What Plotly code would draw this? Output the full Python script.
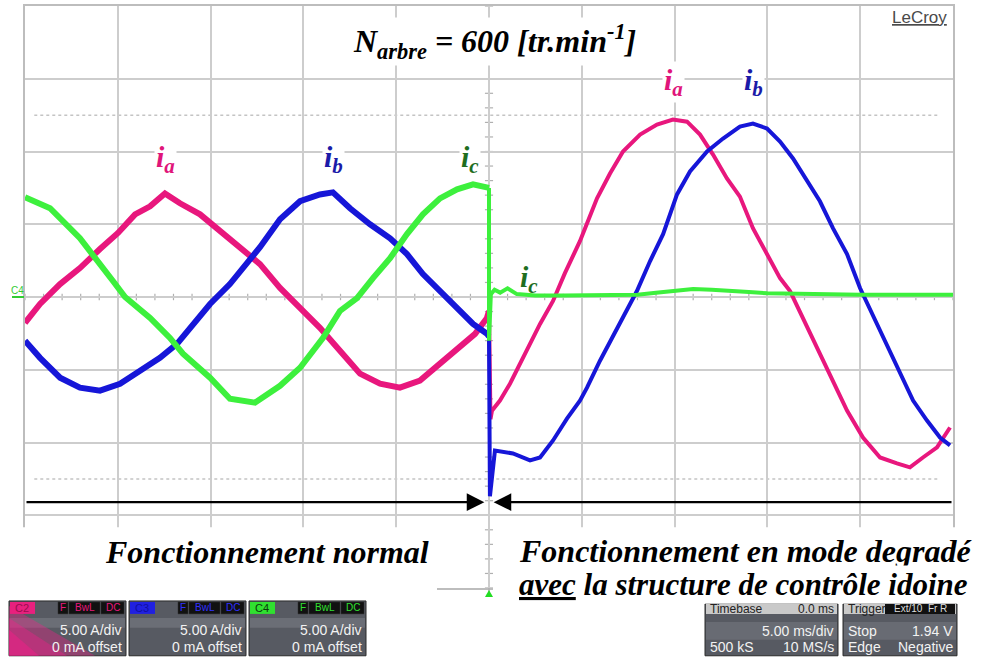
import plotly.graph_objects as go

# ---------------- data (time in ms, current in A; 5 ms/div, 5 A/div) ----------------
ia_normal_t = [-25.0, -24.19, -23.11, -22.04, -20.96, -19.99, -19.07, -18.26, -17.46, -16.65, -15.57,
               -14.5, -13.42, -12.34, -11.26, -10.18, -9.11, -8.03, -6.95, -5.87, -4.80, -3.72,
               -2.64, -1.56, -0.75, -0.11, 0.0]
ia_normal = [-1.78, -0.48, 0.89, 1.99, 3.30, 4.40, 5.68, 6.23, 7.12, 6.44, 5.68,
             4.52, 3.36, 2.26, 0.62, -0.75, -2.12, -3.70, -5.27, -5.96, -6.23, -5.75,
             -4.59, -3.49, -2.53, -1.44, -0.96]

ib_normal_t = [-25.0, -24.19, -23.11, -22.04, -20.96, -19.88, -18.80, -17.73, -16.81, -16.11, -15.03,
               -13.96, -13.04, -12.34, -11.26, -10.18, -9.11, -8.41, -7.49, -6.41, -5.33, -4.42,
               -3.56, -2.64, -1.72, -0.86, -0.11, 0.0]
ib_normal = [-3.01, -4.18, -5.55, -6.23, -6.44, -5.96, -5.07, -4.18, -3.22, -2.12, -0.48,
             0.89, 2.33, 3.42, 5.34, 6.58, 7.05, 7.19, 6.10, 5.00, 4.04, 2.95,
             1.58, 0.41, -0.75, -1.85, -2.53, -2.70]

ic_normal_t = [-25.0, -23.65, -22.04, -20.96, -20.26, -19.61, -18.26, -17.19, -16.49, -15.03, -13.96,
               -12.61, -11.26, -10.18, -8.94, -8.03, -7.11, -6.25, -5.33, -4.42, -3.56, -2.64,
               -1.72, -0.86, -0.11, 0.0]
ic_normal = [6.85, 6.10, 4.04, 2.33, 1.10, 0.00, -1.44, -2.81, -3.90, -5.55, -6.99,
             -7.26, -6.10, -4.86, -2.81, -0.96, -0.07, 1.30, 2.67, 4.32, 5.68, 6.78,
             7.40, 7.74, 7.47, 7.50]

ia_degr_t = [0.0, 0.08, 0.16, 0.59, 1.13, 1.67, 2.21, 2.75, 3.45, 4.09, 4.90, 5.82, 6.52, 7.22,
             8.14, 9.05, 9.91, 10.67, 11.37, 12.07, 12.82, 13.52, 14.22, 14.98, 15.68, 16.22,
             17.30, 18.37, 19.29, 20.15, 21.07, 21.98, 22.68, 23.38, 24.14, 24.84]
ia_degr = [-0.96, -8.40, -7.81, -7.12, -5.96, -4.59, -3.22, -1.85, -0.27, 1.64, 3.84, 6.78, 8.49, 10.0,
           11.16, 11.85, 12.19, 12.05, 11.16, 9.79, 8.15, 6.90, 4.73, 2.95, 1.30, 0.41,
           -2.47, -5.21, -7.81, -9.66, -11.03, -11.44, -11.71, -11.03, -10.34, -8.97]

ib_degr_t = [0.0, 0.05, 0.32, 1.29, 2.21, 2.75, 3.45, 4.20, 4.90, 5.28, 5.98, 6.95, 7.97, 8.68,
             9.38, 10.13, 10.83, 11.75, 12.61, 13.52, 14.22, 14.98, 15.68, 16.38, 17.13, 17.83,
             18.53, 19.29, 19.99, 21.07, 21.88, 22.85, 23.60, 24.30, 24.84]
ib_degr = [-2.70, -13.70, -10.55, -10.75, -11.23, -11.03, -9.86, -8.36, -7.12, -6.23, -4.38, -1.99, 0.41, 2.47,
           4.32, 7.05, 8.63, 10.0, 10.89, 11.71, 11.92, 11.58, 10.68, 9.52, 7.95, 6.58,
           4.73, 2.95, 0.62, -2.33, -4.52, -7.12, -8.49, -9.66, -10.20]

ic_degr_t = [0.0, 0.0, 0.1, 0.3, 0.6, 1.0, 1.5, 2.5, 4.0, 6.0, 8.0, 9.0, 10.0, 11.0, 12.0, 13.0,
             14.0, 15.0, 17.0, 20.0, 23.0, 25.0]
ic_degr = [7.50, -3.00, 0.20, 0.50, 0.30, 0.60, 0.20, 0.10, 0.10, 0.10, 0.15, 0.30, 0.45, 0.55, 0.50, 0.45,
           0.35, 0.25, 0.20, 0.15, 0.15, 0.15]

PINK = "#E8177D"
BLUE = "#1616D8"
GREEN = "#3DF03D"

# ---------------- layout helpers (pixel -> paper) ----------------
W, H = 987, 659
L, R, T, B = 25, 953, 4, 588


def px(x):
    return (x - L) / (R - L)


def py(y):
    return (B - y) / (B - T)


fig = go.Figure()

for t, v, c, w in [
    (ia_normal_t, ia_normal, PINK, 6), (ib_normal_t, ib_normal, BLUE, 6), (ic_normal_t, ic_normal, GREEN, 6),
    (ia_degr_t, ia_degr, PINK, 4), (ib_degr_t, ib_degr, BLUE, 4), (ic_degr_t, ic_degr, GREEN, 4),
]:
    fig.add_trace(go.Scatter(x=t, y=v, mode="lines", line=dict(color=c, width=w),
                             showlegend=False, hoverinfo="skip"))

shapes = []
# dotted cursor lines at +-2.5 div
for yv in (12.5, -12.5):
    shapes.append(dict(type="line", xref="x", yref="y", x0=-24.5, x1=24.2, y0=yv, y1=yv,
                       line=dict(color="#c4c4c4", width=1.5, dash="dot"), layer="below"))
# minor ticks on centre axes
for k in range(-25, 26):
    shapes.append(dict(type="line", xref="x", yref="y", x0=k, x1=k, y0=-0.22, y1=0.22,
                       line=dict(color="#b0b0b0", width=1.2), layer="below"))
for k in range(-20, 21):
    shapes.append(dict(type="line", xref="x", yref="y", x0=-0.22, x1=0.22, y0=k, y1=k,
                       line=dict(color="#b0b0b0", width=1.2), layer="below"))

# white overlay boxes under the plot (covering the lower grid except the centre axis)
shapes.append(dict(type="rect", xref="paper", yref="paper", x0=px(0), x1=px(437), y0=py(600), y1=py(527),
                   fillcolor="white", line=dict(width=0), layer="above"))
shapes.append(dict(type="rect", xref="paper", yref="paper", x0=px(493), x1=px(990), y0=py(600), y1=py(527),
                   fillcolor="white", line=dict(width=0), layer="above"))
# trigger marker
shapes.append(dict(type="line", xref="paper", yref="paper", x0=px(489), x1=px(489), y0=py(588), y1=py(596),
                   line=dict(color="#b0b0b0", width=1.5)))
shapes.append(dict(type="path", xref="paper", yref="paper",
                   path=f"M {px(485)},{py(597)} L {px(493)},{py(597)} L {px(489)},{py(590)} Z",
                   fillcolor="#22dd22", line=dict(width=0)))
# C4 marker underline on the left
shapes.append(dict(type="line", xref="paper", yref="paper", x0=px(12), x1=px(24), y0=py(296), y1=py(296),
                   line=dict(color="#33cc33", width=2)))

annotations = []


def text(x, y, s, size, color="black", family="Liberation Serif", xanchor="center", bg=None, yanchor="middle"):
    a = dict(x=px(x), y=py(y), xref="paper", yref="paper", text=s, showarrow=False,
             font=dict(size=size, color=color, family=family), xanchor=xanchor, yanchor=yanchor)
    if bg:
        a["bgcolor"] = bg
    annotations.append(a)


# title and labels
text(494, 40, "<b><i>N<sub>arbre</sub> = 600 [tr.min<sup>-1</sup>]</i></b>", 32, bg="white")
text(165, 158, "<b><i>i<sub>a</sub></i></b>", 30, "#E0157A", bg="white")
text(333, 158, "<b><i>i<sub>b</sub></i></b>", 30, "#1B1BA8", bg="white")
text(470, 158, "<b><i>i<sub>c</sub></i></b>", 30, "#1F6E1F", bg="white")
text(673, 80, "<b><i>i<sub>a</sub></i></b>", 30, "#E0157A", bg="white")
text(753, 80, "<b><i>i<sub>b</sub></i></b>", 30, "#1B1BA8", bg="white")
text(529, 278, "<b><i>i<sub>c</sub></i></b>", 30, "#1F6E1F")
text(949, 16, "<span style='text-decoration:underline'>LeCroy</span>", 17, "#4a4a4a",
     family="Liberation Sans", xanchor="right")
text(17, 289, "C4", 10, "#33cc33", family="Liberation Sans")

text(267, 552, "<b><i>Fonctionnement normal</i></b>", 32)
text(517, 551, "<b><i>Fonctionnement en mode degradé</i></b>", 32, xanchor="left")
text(517, 584, "<b><i><span style='text-decoration:underline'>avec</span> la structure de contrôle idoine</i></b>",
     31, xanchor="left", bg="white")

# double arrow
for x_tip, x_tail in [(-0.25, -25.0), (0.25, 25.0)]:
    annotations.append(dict(x=x_tip, y=-14.1, ax=x_tail, ay=-14.1, xref="x", yref="y", axref="x", ayref="y",
                            showarrow=True, arrowhead=2, arrowsize=1.6, arrowwidth=2.2, arrowcolor="black",
                            text=""))

# --------------- channel panels ---------------
panels = [(9, "C2", "#E8207E", "#9a0f4e", PINK), (129, "C3", "#2020E0", "#1010a0", "#3030ff"),
          (249, "C4", "#30E030", "#0a3a0a", "#30e030")]
for x0, name, tagc, tagtxt, tagfont in panels:
    x1 = x0 + 117
    shapes.append(dict(type="rect", xref="paper", yref="paper", x0=px(x0), x1=px(x1), y0=py(656), y1=py(601),
                       fillcolor="#575a62", line=dict(color="#2a2a2a", width=1)))
    shapes.append(dict(type="rect", xref="paper", yref="paper", x0=px(x0 + 1), x1=px(x1 - 1), y0=py(628),
                       y1=py(618), fillcolor="#6b6e76", line=dict(width=0)))
    if name == "C2":
        for k, op in enumerate([0.35, 0.35, 0.4]):
            shapes.append(dict(type="path", xref="paper", yref="paper",
                               path=f"M {px(x0)},{py(656)} L {px(x0)},{py(606 + 12 * k)} "
                                    f"L {px(x0 + 30 + 28 * (2 - k))},{py(656)} Z",
                               fillcolor="#ff1a8c", opacity=op, line=dict(width=0)))
    shapes.append(dict(type="rect", xref="paper", yref="paper", x0=px(x0 + 1), x1=px(x0 + 26), y0=py(614),
                       y1=py(602), fillcolor=tagc, line=dict(width=0)))
    text(x0 + 13, 608, name, 11, tagtxt, family="Liberation Sans")
    for a, b, s in [(49, 59, "F"), (60, 91, "BwL"), (92, 115, "DC")]:
        shapes.append(dict(type="rect", xref="paper", yref="paper", x0=px(x0 + a), x1=px(x0 + b), y0=py(614),
                           y1=py(602), fillcolor="#111111", line=dict(color="#333", width=0.5)))
        text(x0 + (a + b) / 2, 608, s, 10, tagfont, family="Liberation Sans")
    text(x1 - 2, 630, "5.00 A/div", 14, "#f2f2f2", family="Liberation Sans", xanchor="right")
    text(x1 - 2, 647, "0 mA offset", 14, "#f2f2f2", family="Liberation Sans", xanchor="right")

# timebase & trigger panels
for x0, x1 in [(705, 838), (843, 957)]:
    shapes.append(dict(type="rect", xref="paper", yref="paper", x0=px(x0), x1=px(x1), y0=py(656), y1=py(604),
                       fillcolor="#575a62", line=dict(color="#2a2a2a", width=1)))
    shapes.append(dict(type="rect", xref="paper", yref="paper", x0=px(x0 + 1), x1=px(x1 - 1), y0=py(614),
                       y1=py(604), fillcolor="#c9c9c9", line=dict(width=0)))
    shapes.append(dict(type="rect", xref="paper", yref="paper", x0=px(x0 + 1), x1=px(x1 - 1), y0=py(640),
                       y1=py(622), fillcolor="#686b73", line=dict(width=0)))
shapes.append(dict(type="rect", xref="paper", yref="paper", x0=px(885), x1=px(955), y0=py(614), y1=py(604),
                   fillcolor="#111111", line=dict(width=0)))
text(708, 609, "Timebase", 12, "#222", family="Liberation Sans", xanchor="left")
text(836, 609, "0.0 ms", 12, "#222", family="Liberation Sans", xanchor="right")
text(846, 609, "Trigger", 12, "#222", family="Liberation Sans", xanchor="left")
text(920, 609, "Ext/10  Fr R", 10, "#dddddd", family="Liberation Sans")
text(836, 631, "5.00 ms/div", 14, "#f2f2f2", family="Liberation Sans", xanchor="right")
text(708, 647, "500 kS", 14, "#f2f2f2", family="Liberation Sans", xanchor="left")
text(836, 647, "10 MS/s", 14, "#f2f2f2", family="Liberation Sans", xanchor="right")
text(846, 631, "Stop", 14, "#f2f2f2", family="Liberation Sans", xanchor="left")
text(955, 631, "1.94 V", 14, "#f2f2f2", family="Liberation Sans", xanchor="right")
text(846, 647, "Edge", 14, "#f2f2f2", family="Liberation Sans", xanchor="left")
text(955, 647, "Negative", 14, "#f2f2f2", family="Liberation Sans", xanchor="right")

# re-draw the "avec" line last so it sits on top of the panel headers
annotations.append(annotations.pop(annotations.index(next(a for a in annotations if "avec" in a["text"]))))

fig.update_layout(
    width=W, height=H, autosize=False,
    margin=dict(l=L, r=W - R, t=T, b=H - B),
    paper_bgcolor="white", plot_bgcolor="white",
    shapes=shapes, annotations=annotations,
    xaxis=dict(range=[-25, 25], dtick=5, tick0=-25, showticklabels=False, ticks="", zeroline=False,
               showgrid=True, gridcolor="#cdcdcd", gridwidth=1.5, showline=True, mirror=True,
               linecolor="#bdbdbd", linewidth=2, fixedrange=True),
    yaxis=dict(range=[-20, 20], dtick=5, tick0=-20, showticklabels=False, ticks="", zeroline=False,
               showgrid=True, gridcolor="#cdcdcd", gridwidth=1.5, showline=True, mirror=True,
               linecolor="#bdbdbd", linewidth=2, fixedrange=True),
)

fig.write_html("out.html", config={"displayModeBar": False},
               post_script="document.body.style.margin='0px';document.body.style.overflow='hidden';")
